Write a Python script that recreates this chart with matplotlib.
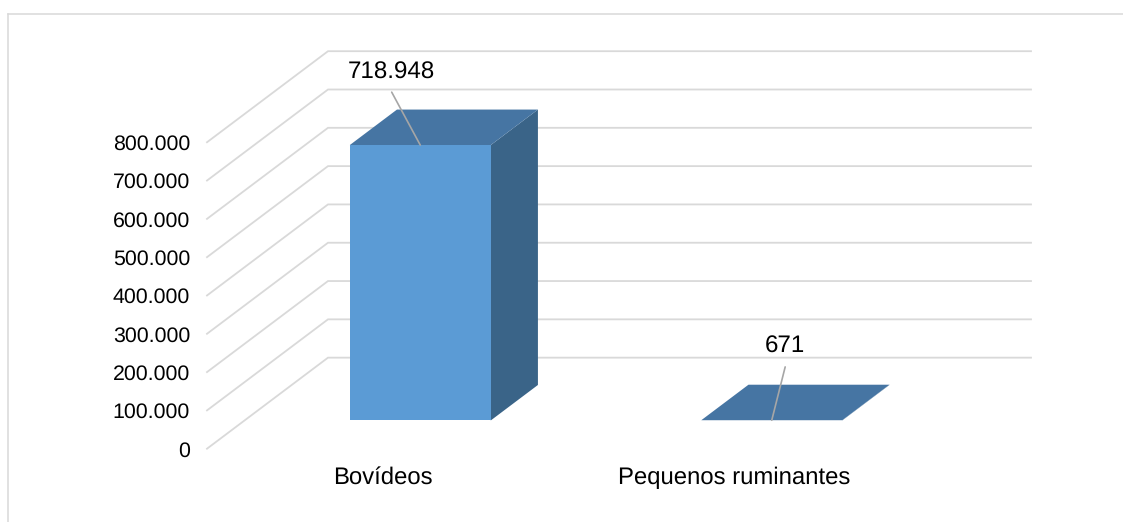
import numpy as np
import matplotlib
matplotlib.use("Agg")
import matplotlib.pyplot as plt
from matplotlib.lines import Line2D
from matplotlib.patches import Polygon
from matplotlib.ticker import FuncFormatter

plt.rcParams["font.family"] = ["Liberation Sans", "DejaVu Sans"]
plt.rcParams["text.hinting"] = "no_hinting"

categories = ["Bovídeos", "Pequenos ruminantes"]
values = [718948, 671]
tick_values = [0, 100000, 200000, 300000, 400000, 500000, 600000, 700000, 800000]
label_texts = ["718.948", "671"]

W, H = 1123, 522
GRID = "#D9D9D9"
FRONT = "#5B9BD5"
TOP = "#4675A3"
SIDE = "#3A6488"

# fake 3d: depth offset of the chart box, in data units
depth_x = 121 / 351.5
depth_y = 800000 * 91 / 306.3
bar_w = 0.401
d_front, d_back = 0.31, 0.70


def shift(x, y, d):
    return (x + d * depth_x, y + d * depth_y)


fig = plt.figure(figsize=(W / 100, H / 100), dpi=100)
ax = fig.add_axes([207 / W, (H - 448.7) / H, 824 / W, 397.5 / H])
ax.set_xlim(-0.5, 1.5 + depth_x)
ax.set_ylim(0, 800000 + depth_y)
for s in ax.spines.values():
    s.set_visible(False)

# back wall + side wall grid
for v in tick_values:
    xs = [-0.5, -0.5 + depth_x, 1.5 + depth_x]
    ys = [v, v + depth_y, v + depth_y]
    ax.plot(xs, ys, color=GRID, lw=1.3, zorder=1, solid_joinstyle="miter", clip_on=False)

# bars
for i, v in enumerate(values):
    x0, x1 = i - bar_w / 2, i + bar_w / 2
    side = [shift(x1, 0, d_front), shift(x1, 0, d_back), shift(x1, v, d_back), shift(x1, v, d_front)]
    top = [shift(x0, v, d_front), shift(x1, v, d_front), shift(x1, v, d_back), shift(x0, v, d_back)]
    front = [shift(x0, 0, d_front), shift(x1, 0, d_front), shift(x1, v, d_front), shift(x0, v, d_front)]
    ax.add_patch(Polygon(side, closed=True, fc=SIDE, ec="none", zorder=2))
    ax.add_patch(Polygon(top, closed=True, fc=TOP, ec="none", zorder=3))
    ax.add_patch(Polygon(front, closed=True, fc=FRONT, ec="none", zorder=4))

# data labels with leader lines
offsets = [(-29, 73), (13, 74)]
relx = [0.45, 0.57]
for i, v in enumerate(values):
    xy = shift(i, v, d_front)
    ax.annotate(label_texts[i], xy=xy, xycoords="data",
                xytext=(offsets[i][0] * 0.72, offsets[i][1] * 0.72), textcoords="offset points",
                ha="center", va="center", fontsize=17.4, color="#000000", zorder=6,
                arrowprops=dict(arrowstyle="-", color="#A6A6A6", lw=1.2, shrinkA=5, shrinkB=0,
                                relpos=(relx[i], 0)))

ax.set_yticks(tick_values)
ax.yaxis.set_major_formatter(FuncFormatter(lambda v, p: f"{int(v):,}".replace(",", ".")))
ax.set_xticks([0, 1])
ax.set_xticklabels(categories)
ax.tick_params(axis="y", length=0, pad=12.2, labelsize=15.4)
ax.tick_params(axis="x", length=0, pad=13, labelsize=17.2)

# thin frame of the chart area, cut off at right and bottom
fig.add_artist(Line2D([7.5 / W, 7.5 / W], [0, (H - 13.5) / H], color=GRID, lw=1.1))
fig.add_artist(Line2D([7.5 / W, 1], [(H - 13.5) / H, (H - 13.5) / H], color=GRID, lw=1.1))

fig.savefig("out.png", dpi=100)
